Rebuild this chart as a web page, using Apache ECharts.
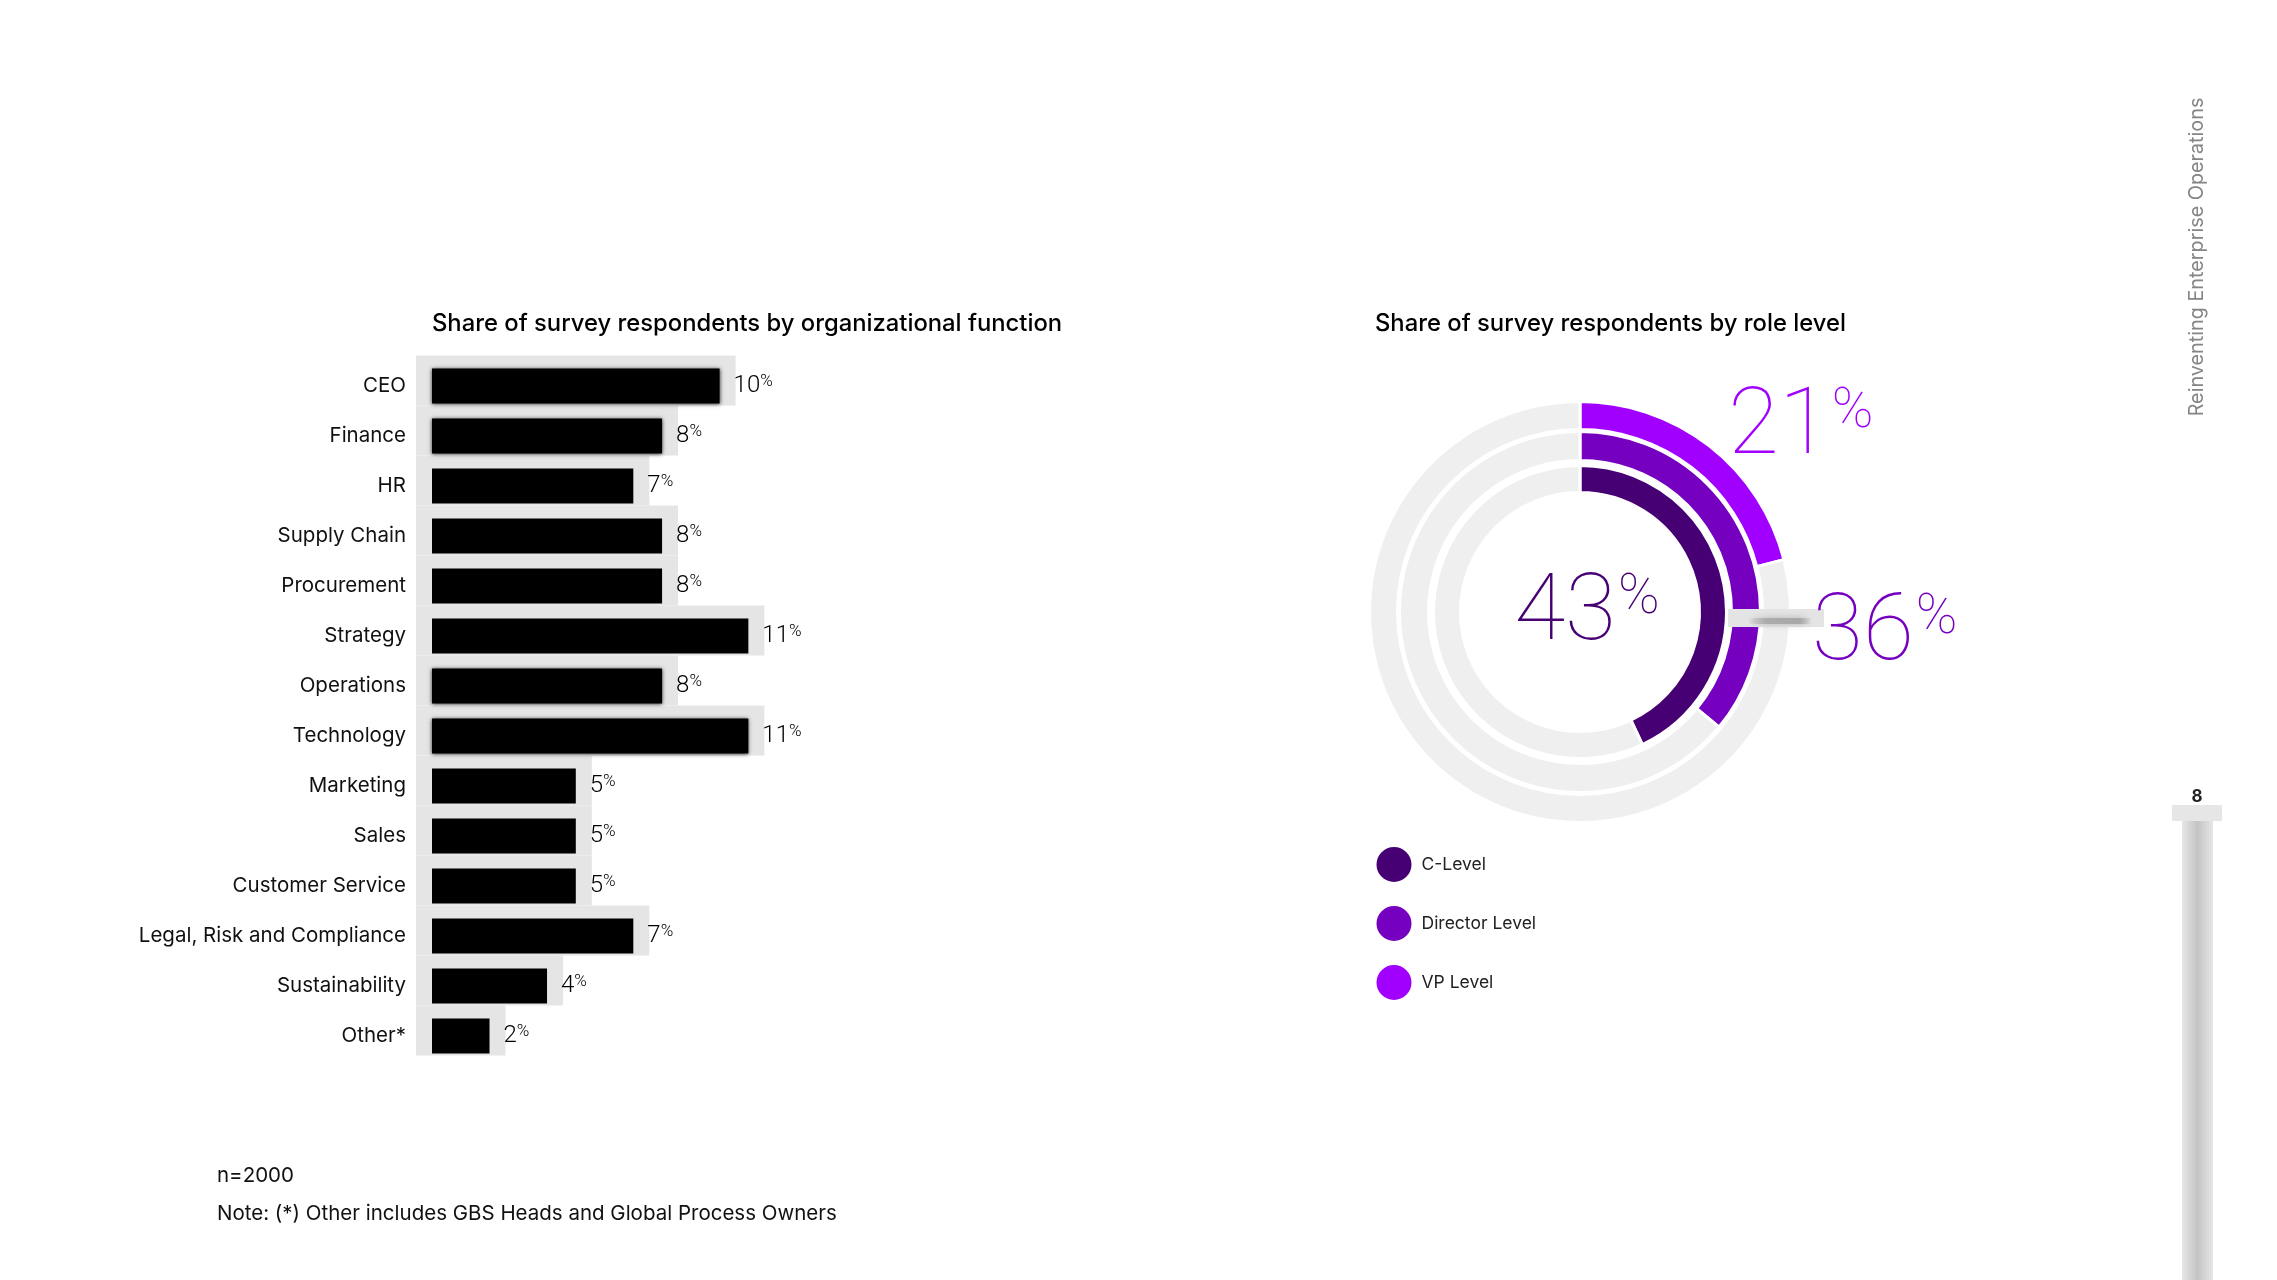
<!DOCTYPE html>
<html>
<head>
<meta charset="utf-8">
<script src="https://cdn.jsdelivr.net/npm/echarts@6/dist/echarts.min.js"></script>
<style>
html,body{margin:0;padding:0;background:#fff;}
#chart{width:2277px;height:1280px;}
</style>
</head>
<body>
<div id="chart"></div>
<script>
// ---- data ----
const categories = ['CEO','Finance','HR','Supply Chain','Procurement','Strategy','Operations','Technology','Marketing','Sales','Customer Service','Legal, Risk and Compliance','Sustainability','Other*'];
const shares = [10,8,7,8,8,11,8,11,5,5,5,7,4,2];
const roleLevels = ['C-Level','Director Level','VP Level'];
const roleShares = [43,36,21];
const leftTitle = 'Share of survey respondents by organizational function';
const rightTitle = 'Share of survey respondents by role level';
const footNotes = ['n=2000','Note: (*) Other includes GBS Heads and Global Process Owners'];
const sideText = 'Reinventing Enterprise Operations';
const pageNumber = '8';

// ---- styles / layout ----
const roleColors = ['#460073','#7500C0','#A100FF'];
const softRows = ['CEO','Finance','Operations','Technology'];
const FONT = 'Inter, "Noto Sans", sans-serif';
const NUMFONT = 'Roboto, "Liberation Sans", sans-serif';
const cx = 1580, cy = 612;
const ringRadii = [[119.5,146.5],[151.5,180.5],[182.5,210.5]];

const chart = echarts.init(document.getElementById('chart'), null, {renderer:'canvas'});

function bigRich(color) {
  return {
    n: {fontSize: 93, fontWeight: 100, color: color, fill: color, fontFamily: NUMFONT, lineHeight: 124, verticalAlign: 'middle'},
    p: {fontSize: 56, fontWeight: 100, color: color, fill: color, fontFamily: NUMFONT, verticalAlign: 'middle', padding: [0,0,35,2]}
  };
}

const pieSeries = roleLevels.map((name, i) => ({
  type: 'pie',
  name: name,
  center: [cx, cy],
  radius: ringRadii[i],
  startAngle: 90,
  clockwise: true,
  silent: true,
  z: 2,
  emphasis: {disabled: true, scale: false},
  itemStyle: {borderColor: '#fff', borderWidth: 3},
  label: {show: false},
  labelLine: {show: false},
  data: [
    {value: roleShares[i], name: name, itemStyle: {color: roleColors[i]},
     label: i === 0 ? {
       show: true, position: 'center', offset: [7, 4],
       formatter: '{n|' + roleShares[i] + '}{p|%}',
       rich: bigRich(roleColors[i])
     } : {show: false}},
    {value: 100 - roleShares[i], name: name + ' rest', itemStyle: {color: '#efefef'}, label: {show: false}}
  ]
}));

function bigPct(idx, x, y) {
  return {
    type: 'text', x: x, y: y, z: 120,
    style: {
      text: '{n|' + roleShares[idx] + '}{p|%}',
      align: 'left', verticalAlign: 'middle',
      rich: bigRich(roleColors[idx])
    }
  };
}

const option = {
  backgroundColor: '#fff',
  animation: false,
  textStyle: {fontFamily: FONT},
  title: [
    {text: leftTitle, left: 427, top: 307, textStyle: {fontSize: 23.8, fontWeight: 500, color: '#000', fontFamily: FONT}},
    {text: rightTitle, left: 1370, top: 307, textStyle: {fontSize: 23.8, fontWeight: 500, color: '#000', fontFamily: FONT}}
  ],
  legend: {
    orient: 'vertical',
    left: 1374.5, top: 845, padding: 0,
    data: roleLevels.map((n, i) => ({name: n, itemStyle: {color: roleColors[i]}})),
    icon: 'circle',
    itemWidth: 37, itemHeight: 37,
    itemGap: 20,
    selectedMode: false,
    textStyle: {fontSize: 17.5, color: '#222', fontFamily: FONT, padding: [0,0,0,4]}
  },
  grid: {left: 432, top: 361, width: 575.2, height: 700, containLabel: false},
  xAxis: {type: 'value', min: 0, max: 20, show: false},
  yAxis: {
    type: 'category', data: categories, inverse: true,
    axisLine: {show: false}, axisTick: {show: false}, splitLine: {show: false},
    axisLabel: {margin: 26, fontSize: 20.5, color: '#111', fontFamily: FONT}
  },
  series: [
    {
      type: 'custom',
      silent: true,
      z: 1,
      encode: {x: 0, y: 1},
      data: shares.map((v, i) => [v, i]),
      renderItem: function (params, api) {
        const s = api.coord([0, api.value(1)]);
        const e = api.coord([api.value(0), api.value(1)]);
        const band = api.size([0, 1])[1];
        const bh = band * 0.7;
        return {
          type: 'rect',
          shape: {x: s[0] - 16, y: s[1] - bh / 2 - 13, width: e[0] - s[0] + 32, height: bh + 15},
          style: {fill: '#e5e5e5'}
        };
      }
    },
    {
      type: 'bar',
      data: shares.map((v, i) => softRows.indexOf(categories[i]) >= 0
        ? {value: v, itemStyle: {shadowBlur: 4, shadowColor: 'rgba(0,0,0,0.8)'}}
        : v),
      barWidth: '70%',
      z: 3,
      silent: true,
      itemStyle: {color: '#000'},
      label: {
        show: true, position: 'right', distance: 14,
        formatter: p => '{n|' + p.value + '}{p|%}',
        rich: {
          n: {fontSize: 24, fontWeight: 300, color: '#000', fontFamily: NUMFONT, lineHeight: 32, verticalAlign: 'middle'},
          p: {fontSize: 17, fontWeight: 300, color: '#000', fontFamily: NUMFONT, verticalAlign: 'middle', padding: [0,0,9,0]}
        }
      }
    }
  ].concat(pieSeries),
  graphic: [
    // connector to the Director Level value
    {type: 'rect', z: 100, shape: {x: cx + 148, y: cy - 3, width: 96, height: 18}, style: {fill: '#e4e4e4'}},
    {type: 'rect', z: 101, shape: {x: cx + 168, y: cy + 6, width: 64, height: 6},
     style: {fill: new echarts.graphic.LinearGradient(0, 0, 1, 0, [
       {offset: 0, color: 'rgba(170,170,170,0)'}, {offset: 0.3, color: '#ababab'}, {offset: 0.8, color: '#a8a8a8'}, {offset: 1, color: 'rgba(170,170,170,0)'}]),
       shadowBlur: 6, shadowColor: '#b4b4b4'}},
    bigPct(1, cx + 232, cy + 24),
    bigPct(2, cx + 148, cy - 182),
    // footnotes
    {type: 'text', x: 217, y: 1176, style: {text: footNotes[0], fontSize: 20.5, fill: '#111', fontFamily: FONT, verticalAlign: 'middle'}},
    {type: 'text', x: 217, y: 1214, style: {text: footNotes[1], fontSize: 20.5, fill: '#111', fontFamily: FONT, verticalAlign: 'middle'}},
    // side text and page marker
    {type: 'text', x: 2197, y: 257, rotation: Math.PI / 2,
     style: {text: sideText, fontSize: 19.8, fill: '#858585', fontFamily: FONT, align: 'center', verticalAlign: 'middle'}},
    {type: 'text', x: 2197, y: 797, style: {text: pageNumber, fontSize: 17, fontWeight: 'bold', fill: '#222', fontFamily: FONT, align: 'center', verticalAlign: 'middle'}},
    {type: 'rect', shape: {x: 2172, y: 805, width: 50, height: 16}, style: {fill: '#e6e6e6'}},
    {type: 'rect', shape: {x: 2182, y: 821, width: 31, height: 459},
     style: {fill: new echarts.graphic.LinearGradient(0, 0, 1, 0, [
       {offset: 0, color: '#e6e6e6'}, {offset: 0.5, color: '#c4c4c4'}, {offset: 1, color: '#e6e6e6'}])}}
  ]
};
chart.setOption(option);
</script>
</body>
</html>
